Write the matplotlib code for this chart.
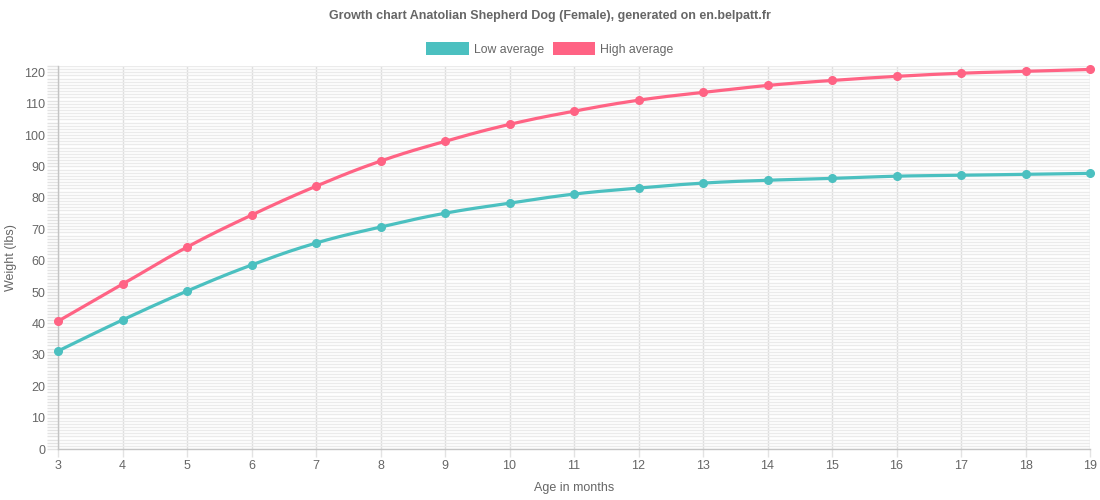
import numpy as np
import matplotlib
matplotlib.use("Agg")
import matplotlib.pyplot as plt
from matplotlib.patches import Rectangle

months = [3, 4, 5, 6, 7, 8, 9, 10, 11, 12, 13, 14, 15, 16, 17, 18, 19]
low_avg = [31.2, 41.1, 50.3, 58.6, 65.6, 70.7, 75.1, 78.3, 81.2, 83.1, 84.7, 85.6, 86.2, 86.9, 87.2, 87.5, 87.8]
high_avg = [40.7, 52.5, 64.3, 74.5, 83.7, 91.7, 98.0, 103.4, 107.6, 111.1, 113.6, 115.8, 117.4, 118.7, 119.7, 120.3, 120.9]
series_names = ["Low average", "High average"]
series_colors = ["#4bc0c0", "#ff6384"]
title = "Growth chart Anatolian Shepherd Dog (Female), generated on en.belpatt.fr"

plt.rcParams['font.family'] = ['Liberation Sans', 'DejaVu Sans']
TXT = "#666666"


def smooth_path(x, y, n=20):
    # Chart.js-like cubic bezier with tension 0.4 (rendering only)
    x = np.asarray(x, float); y = np.asarray(y, float)
    xs, ys = [], []
    t = 0.4
    for i in range(len(x) - 1):
        p0 = (x[i - 1], y[i - 1]) if i > 0 else (x[i], y[i])
        p1 = (x[i], y[i]); p2 = (x[i + 1], y[i + 1])
        p3 = (x[i + 2], y[i + 2]) if i + 2 < len(x) else p2
        c1 = (p1[0] + (p2[0] - p0[0]) * t / 2, p1[1] + (p2[1] - p0[1]) * t / 2)
        c2 = (p2[0] - (p3[0] - p1[0]) * t / 2, p2[1] - (p3[1] - p1[1]) * t / 2)
        s = np.linspace(0, 1, n, endpoint=(i == len(x) - 2))
        bx = (1 - s) ** 3 * p1[0] + 3 * (1 - s) ** 2 * s * c1[0] + 3 * (1 - s) * s ** 2 * c2[0] + s ** 3 * p2[0]
        by = (1 - s) ** 3 * p1[1] + 3 * (1 - s) ** 2 * s * c1[1] + 3 * (1 - s) * s ** 2 * c2[1] + s ** 3 * p2[1]
        xs.extend(bx); ys.extend(by)
    return np.array(xs), np.array(ys)


fig = plt.figure(figsize=(11, 5), dpi=100)
ax = fig.add_axes([58 / 1100, 51 / 500, (1090 - 58) / 1100, (449 - 66) / 500])

for name, vals, col in zip(series_names, [low_avg, high_avg], series_colors):
    sx, sy = smooth_path(months, vals)
    ax.plot(sx, sy, color=col, lw=2.3, zorder=3, solid_capstyle='round', clip_on=False)
    ax.plot(months, vals, 'o', color=col, ms=5.5, zorder=4, clip_on=False)

ax.set_xlim(3, 19)
ax.set_ylim(0, 122)
ax.set_xticks(months)
ax.set_yticks(np.arange(0, 121, 10))
ax.set_yticks(np.arange(0, 123, 1), minor=True)
ax.grid(axis='x', color='#dddddd', lw=1)
ax.grid(axis='y', which='both', color='#ebebeb', lw=1)
ax.set_axisbelow(True)
for s in ['top', 'right']:
    ax.spines[s].set_visible(False)
for s in ['left', 'bottom']:
    ax.spines[s].set_color('#c4c4c4')
    ax.spines[s].set_linewidth(1)
ax.tick_params(axis='both', which='both', colors='#e3e3e3', labelcolor=TXT, labelsize=9, width=1)
ax.tick_params(axis='y', which='both', length=8, pad=1)
ax.tick_params(axis='x', which='both', length=6, pad=2)

ax.set_xlabel("Age in months", fontsize=9, color=TXT, va='center')
ax.set_ylabel("Weight (lbs)", fontsize=9, color=TXT, va='center')
ax.xaxis.set_label_coords(0.5, -(488 - 449) / 383)
ax.yaxis.set_label_coords(-(58 - 11) / 1032, 0.5)

fig.text(0.5, 1 - 16 / 500, title, ha='center', va='center', fontsize=9, fontweight='bold', color=TXT)

handles = [Rectangle((0, 0), 1, 1, facecolor=c, edgecolor='none') for c in series_colors]
leg = fig.legend(handles, series_names, loc='center', bbox_to_anchor=(0.5, 1 - 49 / 500), ncol=2,
                 frameon=False, fontsize=8.8, handlelength=3.5, handleheight=1.15,
                 handletextpad=0.4, columnspacing=0.7, borderpad=0)
for t in leg.get_texts():
    t.set_color(TXT)

fig.savefig("out.png", dpi=100)
